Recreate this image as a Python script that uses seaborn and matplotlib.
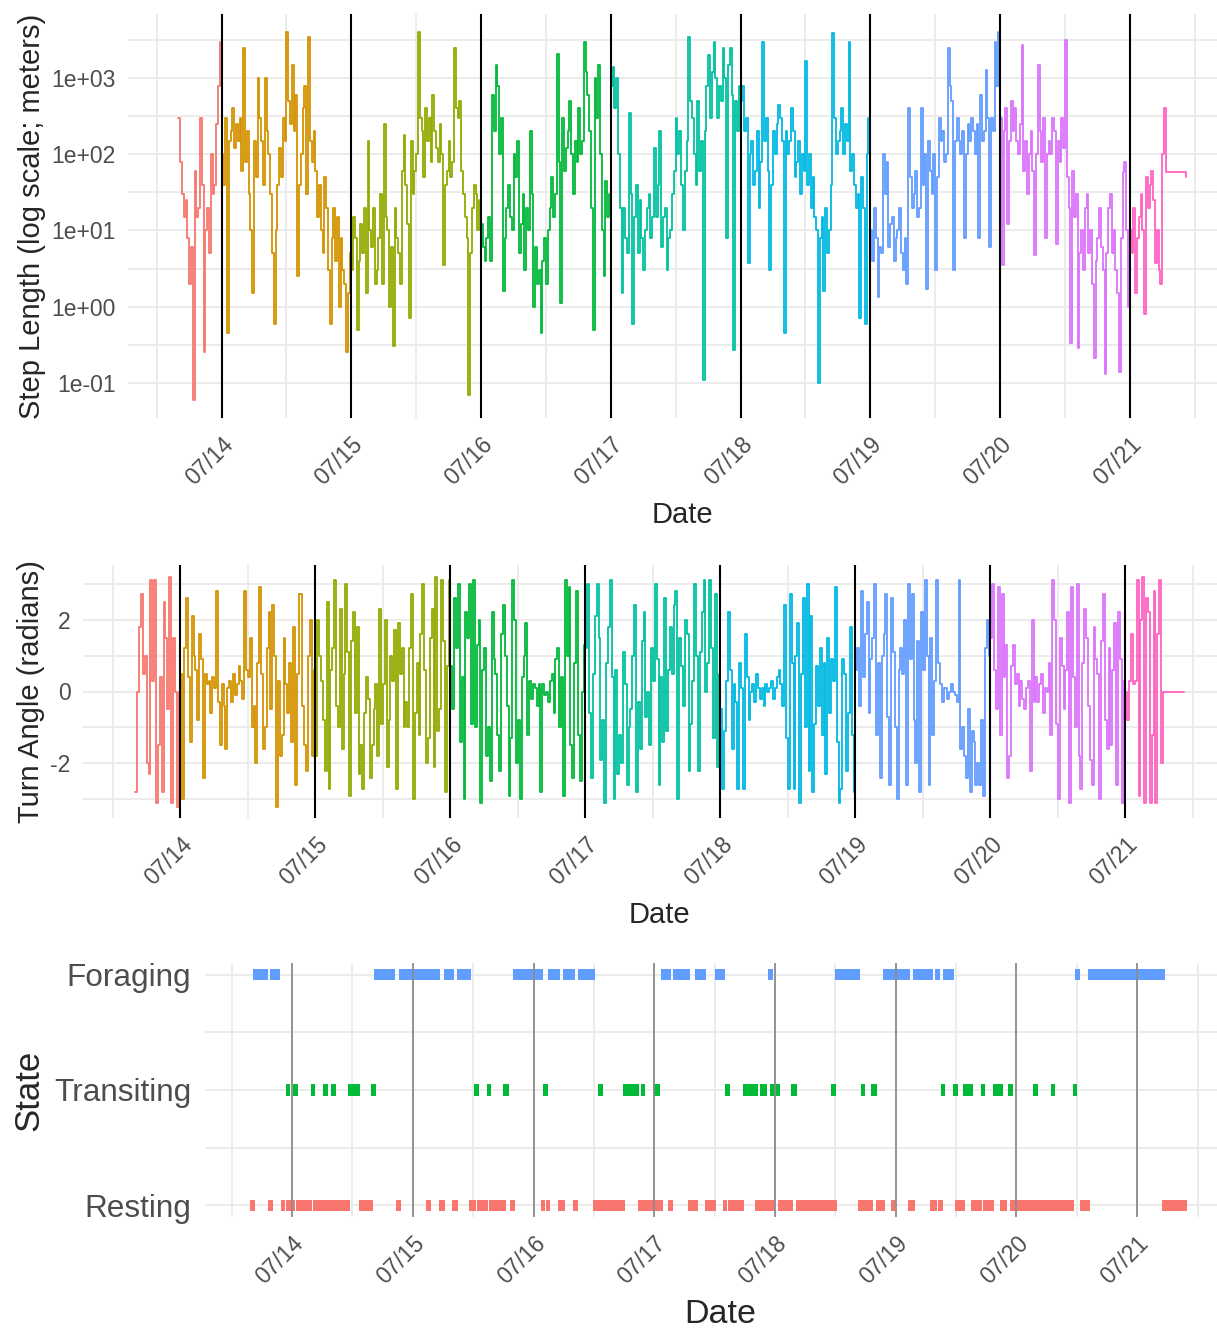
import numpy as np
import pandas as pd
import matplotlib
matplotlib.use("Agg")
import matplotlib.pyplot as plt
import matplotlib.dates as mdates
from matplotlib.path import Path
from matplotlib.ticker import FixedLocator, NullFormatter
import seaborn as sns

# ---------------- data ----------------
day_names = ["07/13", "07/14", "07/15", "07/16", "07/17", "07/18", "07/19", "07/20", "07/21"]
day_colors = ["#F8766D", "#D39200", "#93AA00", "#00BA38", "#00C19F",
              "#00B9E3", "#619CFF", "#DB72FB", "#FF61C3"]
day_first_fix = ["2021-07-13 16:00", "2021-07-14 00:00", "2021-07-15 00:00",
                 "2021-07-16 00:00", "2021-07-17 00:00", "2021-07-18 00:00",
                 "2021-07-19 00:00", "2021-07-20 00:00", "2021-07-21 00:00"]
fix_interval_min = 20

# step length (m) per 20-min fix
step_0713 = [300, 80, 30, 15, 25, 8, 2, 6, 0.06, 60, 15, 20,
             300, 40, 0.25, 10, 20, 5, 100, 30, 40, 250, 800, 3000]
step_0714 = [100, 40, 300, 0.45, 150, 200, 400, 120, 250, 150, 300, 60,
             2500, 80, 200, 30, 10, 1.5, 150, 50, 1000, 300, 150, 40,
             1000, 200, 100, 30, 5, 0.6, 10, 40, 120, 50, 300, 150,
             4000, 500, 250, 1500, 200, 600, 2.5, 40, 100, 400, 800, 30,
             3500, 150, 80, 200, 60, 15, 40, 10, 5, 50, 20, 3,
             0.6, 8, 20, 4, 15, 1, 8, 3, 2, 0.25, 1.5, 5]
step_0715 = [3, 15, 8, 0.5, 4, 12, 5, 20, 1.5, 150, 10, 6,
             20, 2, 3, 8, 30, 2, 250, 15, 10, 1, 6, 0.3,
             20, 8, 5, 2, 60, 180, 40, 12, 0.7, 150, 30, 60,
             100, 4000, 300, 200, 50, 400, 150, 300, 80, 600, 200, 120,
             80, 250, 100, 3.5, 40, 60, 150, 50, 80, 2500, 400, 300,
             500, 60, 30, 15, 8, 0.07, 5, 20, 40, 30, 10, 25]
step_0716 = [12, 6, 4, 8, 15, 4, 600, 200, 1500, 800, 100, 300,
             1.6, 8, 20, 40, 15, 10, 100, 50, 150, 5, 12, 30,
             3, 20, 10, 200, 30, 1, 6, 2, 3, 0.45, 4, 8,
             2, 10, 20, 50, 15, 30, 2100, 80, 1.1, 300, 60, 120,
             200, 500, 100, 30, 150, 80, 400, 100, 150, 3000, 1200, 600,
             200, 20, 0.5, 1000, 300, 1500, 100, 10, 2.5, 45, 15, 30]
step_0717 = [800, 1400, 400, 1000, 100, 20, 1.5, 20, 8, 5, 350, 30,
             0.6, 15, 40, 5, 25, 8, 3, 10, 20, 30, 8, 15,
             120, 15, 40, 200, 6, 15, 20, 3, 8, 10, 30, 60,
             300, 100, 200, 40, 10, 60, 150, 3500, 500, 300, 100, 40,
             500, 60, 150, 0.11, 200, 800, 2000, 300, 1200, 3000, 1000, 300,
             800, 500, 2500, 1000, 8, 1500, 2500, 600, 0.27, 500, 200, 800]
step_0718 = [500, 800, 200, 300, 3.7, 100, 150, 40, 60, 200, 20, 80,
             3000, 150, 300, 60, 3, 40, 200, 100, 250, 450, 300, 150,
             0.45, 200, 100, 150, 400, 200, 50, 80, 150, 30, 100, 60,
             1700, 40, 100, 20, 50, 15, 10, 0.1, 8, 15, 1.6, 20,
             5, 10, 40, 3900, 300, 100, 150, 200, 400, 100, 250, 150,
             3000, 60, 100, 40, 20, 30, 0.7, 50, 20, 0.6, 100, 300]
step_0719 = [10, 4, 20, 8, 1.35, 6, 5, 100, 30, 80, 6, 12,
             15, 4, 8, 10, 20, 5, 3, 8, 2, 400, 50, 20,
             30, 60, 15, 20, 400, 40, 100, 1.7, 150, 60, 30, 100,
             3, 50, 300, 150, 200, 80, 100, 2500, 800, 500, 3, 150,
             300, 150, 100, 200, 8, 100, 250, 150, 300, 200, 100, 250,
             8, 600, 150, 200, 1300, 300, 6, 300, 200, 3000, 800, 4000]
step_0720 = [300, 3.5, 200, 400, 12, 150, 500, 200, 400, 150, 100, 250,
             2700, 60, 150, 30, 100, 200, 60, 4.7, 100, 1500, 200, 80,
             300, 8, 100, 150, 100, 300, 200, 6.7, 150, 80, 300, 120,
             3160, 50, 20, 0.33, 60, 15, 30, 0.29, 5, 10, 3, 20,
             30, 5, 10, 2, 0.21, 4, 8, 20, 6, 3, 0.13, 5,
             20, 30, 5, 10, 3, 1.5, 0.14, 8, 58, 80, 10, 1]
step_0721 = [10, 5, 20, 1.5, 8, 15, 30, 10, 0.8, 50, 20, 40,
             60, 25, 3.7, 10, 3, 2, 100, 400, 58, 58, 58, 58,
             58, 58, 58, 58, 58, 58, 58, 50]

# turning angle (radians) per 20-min fix
turn_0713 = [-2.8, 0.0, 1.8, 2.7, 0.5, 1.0, -2.0, -2.3, 3.1, 0.3, 3.1, -3.1,
             -1.5, 0.4, -2.8, 2.5, 1.5, -0.5, 3.2, -3.1, 1.5, 0.0, -3.2, 0.0]
turn_0714 = [0.5, -3.0, 1.2, 2.6, 0.4, -1.4, 2.1, 1.0, 0.6, -0.8, 1.6, 0.9,
             -2.4, 0.5, 0.2, 0.3, -0.6, 0.4, 0.1, 2.8, -0.3, -1.5, 0.2, -0.4,
             -1.6, 0.1, 0.3, -0.3, 0.5, -0.1, 0.2, 0.7, 0.3, -0.2, 2.8, 0.6,
             0.4, 1.5, -1.0, -0.4, -2.0, 0.8, 2.9, 0.5, -1.6, -1.0, 1.2, 2.2,
             -0.5, 2.4, 1.0, -3.2, 0.3, -1.8, -1.2, 1.5, 0.2, -0.6, 0.8, -1.4,
             1.8, -2.6, 0.5, 2.7, 2.7, -0.4, -1.5, -2.2, 1.0, 2.0, -1.8, 0.6]
turn_0715 = [-1.8, 2.0, 1.0, 0.3, -0.8, -2.2, 2.5, -2.7, 0.6, 1.2, 3.1, -0.4,
             -1.0, 2.3, -1.6, 0.5, 3.0, 1.1, -2.9, 1.4, 2.2, -0.6, 1.8, -2.3,
             -1.5, -2.7, -0.6, 0.4, -0.2, -2.4, -1.5, -0.5, 0.2, -1.8, 2.3, -0.9,
             0.2, 2.0, -2.1, -0.8, 1.0, 0.3, 1.7, -2.7, 1.9, 0.5, 1.2, -1.0,
             -0.3, -1.0, 1.2, 2.7, -3.0, -0.6, 0.8, -1.2, 1.6, 3.0, 0.6, -2.0,
             -1.3, 1.5, 2.3, -2.1, 3.2, -1.1, -0.5, 3.1, 1.4, -2.8, 0.7, 3.1]
turn_0716 = [0.7, -0.5, 2.6, 1.2, 3.0, -1.4, 0.4, -3.0, 2.2, 1.5, 3.0, -0.9,
             3.1, -1.0, 1.3, 2.0, -3.1, 0.6, 1.2, -1.8, -1.0, -2.5, 2.2, 0.9,
             0.5, -1.2, -2.2, 1.6, 2.4, 1.0, -0.4, -2.9, -1.3, 3.1, 2.0, -2.0,
             -0.8, -3.0, 0.4, 1.0, 1.9, -1.2, 0.3, -0.2, 0.2, 0.1, -0.4, 0.2,
             -2.8, 0.2, -0.1, 0.0, -0.3, 0.3, 0.5, -0.6, 0.9, 1.2, -1.0, 0.4,
             -2.9, 3.1, 1.0, 2.9, -1.5, -2.4, 0.8, 2.8, -1.2, -2.5, 0.0, 1.3]
turn_0717 = [1.2, 3.0, -0.6, -2.4, 0.5, 2.1, 3.0, 1.5, -1.9, -0.8, -3.1, 0.8,
             1.8, 3.1, 0.4, -3.0, 0.6, -2.3, -1.2, -2.0, 1.1, 0.2, -2.6, -1.0,
             -0.5, 1.0, 2.4, -2.8, -0.3, -1.6, 1.4, 2.2, -0.7, 0.0, -1.5, 1.2,
             0.3, 3.0, 0.9, -2.6, 0.4, -1.4, 2.6, -1.1, 0.6, 1.8, 0.5, 2.4,
             2.8, -3.0, 1.5, 0.7, -0.4, 2.0, 1.6, -2.2, -0.9, 0.3, 3.0, 1.0,
             -2.2, 1.1, 2.2, 3.1, 0.0, 0.8, 3.1, 1.2, -1.3, 2.7, -2.1, 0.5]
turn_0718 = [-0.5, -2.7, -1.1, 0.3, 2.2, 0.6, -1.6, 0.2, -0.3, -2.7, 0.8, 0.1,
             -2.7, 1.6, 0.4, -0.8, 0.0, 0.2, -0.3, 0.5, 0.1, -0.2, 0.1, -0.4,
             0.2, 0.0, 0.1, 0.3, -0.2, 0.1, 0.4, 0.6, 0.2, -0.4, 2.4, -1.3,
             -2.7, 2.7, 0.8, -2.7, 1.0, 1.9, -3.1, 0.5, 2.6, -1.0, 3.0, -2.2,
             2.1, -2.8, -0.9, 0.7, -0.4, 1.2, -1.2, 0.8, -2.3, 1.5, -0.6, 0.9,
             0.3, 2.9, -1.4, -3.1, -2.7, 0.9, 0.5, -2.2, -0.6, 1.8, -1.2, -2.8]
turn_0719 = [0.6, 1.2, -0.4, 2.8, 0.4, 1.6, 2.5, -0.6, 0.9, 1.5, 3.0, -1.2,
             0.8, -2.4, 1.0, 1.6, 2.7, -0.7, -2.6, 2.6, 1.1, -1.0, -3.0, 0.6,
             1.2, 0.5, 2.0, -2.6, 3.0, 0.9, 2.7, -0.8, -2.0, 1.4, -2.8, 2.2,
             0.6, 3.1, 1.0, -2.6, 1.5, -1.2, 0.3, 3.1, 0.8, 0.2, -0.3, 0.1,
             0.1, -0.2, 0.0, 0.2, 0.0, -0.1, -0.3, 3.1, -1.6, -1.0, -1.8, -2.4,
             -0.5, -2.8, -1.1, -1.4, -2.6, -2.0, -2.6, -0.8, -2.9, 1.2, 2.0, 1.0]
turn_0720 = [1.5, 3.0, 0.6, -0.5, 2.9, -1.2, 2.7, 0.4, 1.3, -2.4, -1.8, 0.7,
             1.3, 0.2, 0.5, -0.4, 0.3, -0.2, -0.5, 0.1, 0.3, -2.2, 2.0, -0.3,
             0.4, -0.3, 0.2, 0.5, -0.6, 0.1, 0.0, 0.8, -1.2, 3.1, 2.0, -0.9,
             -3.0, 1.5, 0.7, -0.5, 0.6, 2.2, -3.1, 2.9, 0.4, -1.0, 3.0, -1.8,
             -2.7, 0.8, 2.3, 1.5, -0.4, -1.9, -2.6, 1.8, 0.9, 0.5, -3.0, 1.4,
             2.7, -0.8, -1.6, 1.2, -1.5, 0.6, 1.9, -2.6, 2.2, 0.9, -3.1, 0.3]
turn_0721 = [0.0, -0.8, 0.3, 1.6, 0.2, 0.3, 3.1, -2.9, 2.0, 3.2, -3.1, 2.6,
             2.2, -3.1, -1.2, 2.8, -3.1, 1.6, 3.1, -2.0, 0.0, 0.0, 0.0, 0.0,
             0.0, 0.0, 0.0, 0.0, 0.0, 0.0, 0.0, 0.0]

step_by_day = [step_0713, step_0714, step_0715, step_0716, step_0717,
               step_0718, step_0719, step_0720, step_0721]
turn_by_day = [turn_0713, turn_0714, turn_0715, turn_0716, turn_0717,
               turn_0718, turn_0719, turn_0720, turn_0721]

# decoded behavioural states: (start, end) in hours after 07/14 00:00
state_origin = "2021-07-14 00:00"
foraging_spans = [(-7.5, -5.0), (-4.0, -2.5), (16.5, 20.5), (21.5, 27.0), (27.5, 29.5),
                  (30.5, 32.0), (33.0, 35.5), (44.2, 49.7), (51.2, 53.2), (54.2, 56.2),
                  (57.2, 60.2), (73.6, 75.1), (76.1, 79.1), (80.4, 82.4), (84.4, 85.9),
                  (94.9, 95.3), (108.3, 112.8), (117.8, 119.3), (119.8, 122.8),
                  (123.8, 127.3), (128.2, 128.6), (129.7, 131.7), (156.0, 156.4),
                  (158.5, 173.2)]
transiting_spans = [(-1.0, -0.5), (0.5, 1.0), (4.0, 4.5), (6.5, 7.0), (8.0, 8.5),
                    (11.5, 13.5), (16.0, 16.5), (36.5, 37.0), (39.0, 39.5), (42.2, 43.2),
                    (50.2, 50.6), (61.2, 61.6), (66.1, 69.1), (69.6, 70.0), (72.1, 73.1),
                    (86.4, 86.8), (89.9, 92.4), (93.4, 94.4), (95.4, 96.9), (99.4, 100.4),
                    (107.4, 107.8), (113.3, 113.7), (115.3, 116.3), (129.2, 129.6),
                    (131.7, 132.1), (133.7, 135.2), (137.2, 137.6), (139.7, 141.2),
                    (142.6, 143.0), (147.6, 148.0), (151.1, 151.5), (155.5, 155.9)]
resting_spans = [(-8.0, -7.5), (-4.5, -4.0), (-2.0, -1.5), (-1.0, 0.5), (1.0, 4.0),
                 (4.5, 6.0), (6.5, 8.0), (8.5, 11.5), (13.5, 16.0), (21.0, 21.5),
                 (27.0, 27.5), (29.5, 30.5), (32.0, 33.0), (35.5, 36.5), (37.0, 39.0),
                 (39.5, 42.5), (43.7, 44.1), (49.7, 50.1), (50.7, 51.1), (53.2, 54.2),
                 (56.2, 56.6), (60.2, 61.2), (61.6, 66.1), (69.1, 69.5), (70.1, 72.6),
                 (73.1, 73.5), (75.1, 75.5), (79.0, 80.5), (82.4, 84.4), (85.9, 86.3),
                 (86.9, 89.9), (92.4, 92.8), (93.4, 93.8), (94.4, 95.9), (96.9, 99.4),
                 (100.4, 108.3), (112.8, 113.2), (113.8, 115.3), (116.3, 117.8),
                 (119.3, 119.7), (122.8, 123.8), (127.2, 128.2), (128.7, 129.1),
                 (132.1, 133.6), (135.2, 137.2), (137.6, 139.6), (141.1, 142.1),
                 (143.0, 147.6), (148.0, 151.1), (151.5, 155.5), (157.0, 158.5),
                 (173.2, 177.8)]
state_names = ["Resting", "Transiting", "Foraging"]
state_colors = ["#F8766D", "#00BA38", "#619CFF"]

# ---------------- tidy tables ----------------
rows = []
for name, first, steps, turns in zip(day_names, day_first_fix, step_by_day, turn_by_day):
    t = pd.Timestamp(first) + pd.to_timedelta(np.arange(len(steps)) * fix_interval_min, unit="min")
    rows.append(pd.DataFrame({"time": t, "step": steps, "angle": turns, "day": name}))
track = pd.concat(rows, ignore_index=True)

state_rows = []
for name, spans in zip(state_names, [resting_spans, transiting_spans, foraging_spans]):
    for a, b in spans:
        hrs = np.arange(a, b - 1e-9, fix_interval_min / 60)
        state_rows.append(pd.DataFrame({
            "time": pd.Timestamp(state_origin) + pd.to_timedelta(hrs, unit="h"),
            "state": name,
            "level": state_names.index(name) + 1,
        }))
states = pd.concat(state_rows, ignore_index=True)

# ---------------- figure ----------------
sns.set_theme(style="white")
plt.rcParams["font.family"] = ["Liberation Sans", "DejaVu Sans"]

W, H = 1217, 1332
fig = plt.figure(figsize=(W / 100, H / 100), dpi=100)


def panel(left, top, right, bottom):
    return fig.add_axes([left / W, 1 - bottom / H, (right - left) / W, (bottom - top) / H])


ax1 = panel(128, 14, 1236, 418)
ax2 = panel(83, 565, 1236, 818)
ax3 = panel(205, 963, 1236, 1217)

day_palette = dict(zip(day_names, day_colors))
midnights = pd.date_range("2021-07-14", "2021-07-21", freq="D")
GRID = "#EBEBEB"
TICK = "#4D4D4D"


def finish_time_axis(ax, vline_color, vline_lw, tick_size):
    ax.xaxis.set_major_locator(mdates.DayLocator())
    ax.xaxis.set_major_formatter(mdates.DateFormatter("%m/%d"))
    ax.xaxis.set_minor_locator(mdates.HourLocator(byhour=[12]))
    ax.xaxis.set_minor_formatter(NullFormatter())
    ax.grid(True, which="major", color=GRID, lw=1.3)
    ax.grid(True, which="minor", color=GRID, lw=1.3)
    ax.set_axisbelow(True)
    for s in ax.spines.values():
        s.set_visible(False)
    ax.tick_params(which="both", length=0)
    ax.tick_params(axis="x", pad=11, labelsize=tick_size, labelcolor=TICK)
    for lab in ax.get_xticklabels():
        lab.set_rotation(45)
        lab.set_ha("right")
        lab.set_va("top")
        lab.set_rotation_mode("anchor")
    for m in midnights:
        ax.axvline(m, color=vline_color, lw=vline_lw, zorder=3)


# --- step length ---
sns.lineplot(data=track, x="time", y="step", hue="day", hue_order=day_names,
             palette=day_palette, estimator=None, errorbar=None, sort=True,
             drawstyle="steps-post", linewidth=1.3, legend=False, ax=ax1)
ax1.set_yscale("log")
ax1.margins(x=0.05, y=0.05)
ax1.yaxis.set_major_locator(FixedLocator([0.1, 1, 10, 100, 1000]))
ax1.set_yticklabels(["1e-01", "1e+00", "1e+01", "1e+02", "1e+03"])
ax1.yaxis.set_minor_locator(FixedLocator([10 ** (k + 0.5) for k in range(-2, 4)]))
ax1.yaxis.set_minor_formatter(NullFormatter())
ax1.tick_params(axis="y", pad=9, labelsize=16.5, labelcolor=TICK)
finish_time_axis(ax1, "black", 1.5, 16.5)
ax1.set_xlabel("Date", fontsize=21, labelpad=8)
ax1.set_ylabel("Step Length (log scale; meters)", fontsize=21, labelpad=4)

# --- turning angle ---
sns.lineplot(data=track, x="time", y="angle", hue="day", hue_order=day_names,
             palette=day_palette, estimator=None, errorbar=None, sort=True,
             drawstyle="steps-post", linewidth=1.3, legend=False, ax=ax2)
ax2.margins(x=0.05, y=0.05)
ax2.set_yticks([-2, 0, 2])
ax2.set_yticklabels(["-2", "0", "2"])
ax2.yaxis.set_minor_locator(FixedLocator([-3, -1, 1, 3]))
ax2.yaxis.set_minor_formatter(NullFormatter())
ax2.tick_params(axis="y", pad=9, labelsize=16.5, labelcolor=TICK)
finish_time_axis(ax2, "black", 1.5, 16.5)
ax2.set_xlabel("Date", fontsize=21, labelpad=8)
ax2.set_ylabel("Turn Angle (radians)", fontsize=21, labelpad=4)

# --- decoded states ---
bar_marker = Path([(-0.27, -1), (0.27, -1), (0.27, 1), (-0.27, 1), (-0.27, -1)],
                  [Path.MOVETO, Path.LINETO, Path.LINETO, Path.LINETO, Path.CLOSEPOLY])
sns.scatterplot(data=states, x="time", y="level", hue="state", hue_order=state_names,
                palette=dict(zip(state_names, state_colors)), marker=bar_marker,
                s=63, linewidth=0, legend=False, ax=ax3)
t_span = track["time"].max() - track["time"].min()
ax3.set_xlim(track["time"].min() - t_span * 0.05, track["time"].max() + t_span * 0.05)
ax3.set_ylim(0.9, 3.1)
ax3.set_yticks([1, 2, 3])
ax3.set_yticklabels(state_names)
ax3.yaxis.set_minor_locator(FixedLocator([1.5, 2.5]))
ax3.yaxis.set_minor_formatter(NullFormatter())
ax3.tick_params(axis="y", pad=10, labelsize=22.7, labelcolor=TICK)
finish_time_axis(ax3, "#8C8C8C", 1.3, 16.5)
ax3.set_xlabel("Date", fontsize=24.5, labelpad=7)
ax3.set_ylabel("State", fontsize=25, labelpad=6)

fig.savefig("out.png", dpi=100)
